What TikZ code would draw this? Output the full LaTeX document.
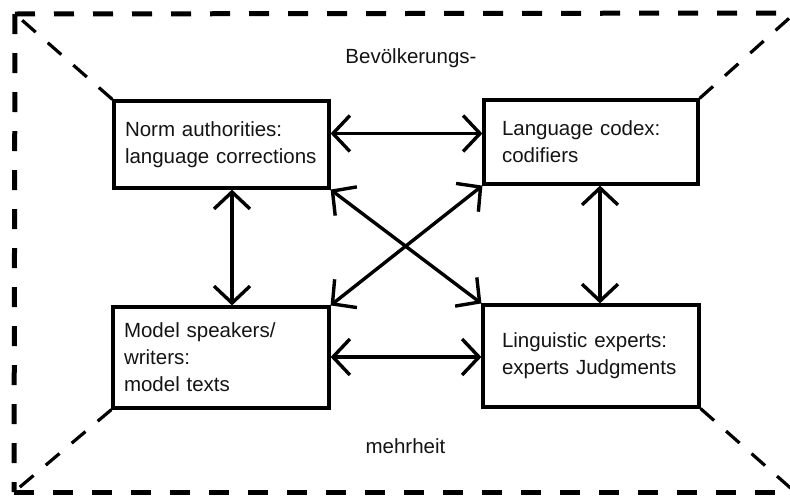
\documentclass[tikz,border=0pt]{standalone}
\usepackage{fontspec}
\setmainfont{Liberation Sans}
\usetikzlibrary{arrows.meta}
\begin{document}
\begin{tikzpicture}[x=1pt,y=-1pt,
  txt/.style={font=\fontsize{20.5}{27}\selectfont, text=black!92},
  box/.style={txt, draw, line width=3.2pt, rectangle, inner ysep=0pt, align=left},
  link/.style={line width=3.4pt,
    {Straight Barb[length=17pt,width=36pt]}-{Straight Barb[length=17pt,width=36pt]}},
  frame/.style={line width=5pt, dash pattern=on 20pt off 19pt},
  corner/.style={line width=3.2pt, dash pattern=on 18pt off 16pt},
  caption/.style={txt, anchor=base}]
\useasboundingbox (0,0) rectangle (790,496);

% the four boxes
\node[box, inner xsep=11pt, text width=193pt, minimum height=87pt] (tl) at (221.5,144.5)
  {Norm authorities:\\language corrections};
\node[box, inner xsep=18pt, text width=178pt, minimum height=84pt] (tr) at (591,142)
  {Language codex:\\codifiers};
\node[box, inner xsep=11pt, text width=194pt, minimum height=101pt] (bl) at (221,357.5)
  {Model speakers/\\writers:\\model texts};
\node[box, inner xsep=19pt, text width=178pt, minimum height=102pt] (br) at (591,356)
  {Linguistic experts:\\experts Judgments};

% outer frame corners
\coordinate (o1) at (15,14);
\coordinate (o2) at (795,13);
\coordinate (o3) at (795,492);
\coordinate (o4) at (14,492);

% rows and columns of the straight links
\coordinate (ytop) at (0,133.5);
\coordinate (ybot) at (0,357);
\coordinate (xl) at (232,0);
\coordinate (xr) at (600,0);

% dashed frame
\draw[frame] (o1) -- (o2);
\draw[frame] (o1) -- (o4);
\draw[frame] (o4) -- (o3);

% dashed lines from the boxes to the frame corners
\draw[corner] (tl.north west) -- (o1);
\draw[corner] (tr.north east) -- (o2);
\draw[corner] (bl.south west) -- (o4);
\draw[corner] (br.south east) -- (o3);

% two-way links between the boxes
\draw[link] (tl.east |- ytop) -- (tr.west |- ytop);
\draw[link] (bl.east |- ybot) -- (br.west |- ybot);
\draw[link] (xl |- tl.south) -- (xl |- bl.north);
\draw[link] (xr |- tr.south) -- (xr |- br.north);
\draw[link] (tl.south east) -- (br.north west);
\draw[link] (tr.south west) -- (bl.north east);

% split word above and below
\node[caption] (top) at (411,63) {Bevölkerungs-};
\node[caption] (bottom) at (405.5,453) {mehrheit};
\end{tikzpicture}
\end{document}
